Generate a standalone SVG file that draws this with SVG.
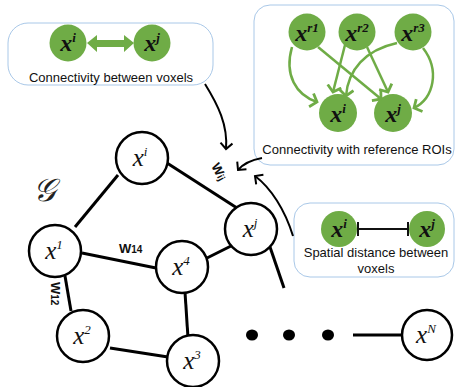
<svg xmlns="http://www.w3.org/2000/svg" width="456" height="387" viewBox="0 0 456 387">
<defs>
<style>
.box{fill:#fff;stroke:#a9c8e8;stroke-width:1}
.gc{fill:#6fac46}
.wc{fill:#fff;stroke:#000;stroke-width:2.5}
.edge{stroke:#000;stroke-width:3;fill:none}
.cap{font-family:"Liberation Sans",Arial,sans-serif;font-size:13px;fill:#111;text-anchor:middle}
.gl{font-family:"Liberation Serif","Times New Roman",serif;font-style:italic;font-weight:bold;font-size:24px;fill:#111;text-anchor:middle}
.wl{font-family:"Liberation Serif","Times New Roman",serif;font-style:italic;font-size:25px;fill:#111;text-anchor:middle}
.sup{font-size:13px}
.w{font-family:"Liberation Sans",Arial,sans-serif;font-weight:bold;font-size:13px;fill:#111}
.ws{font-size:10px}
.garr{stroke:#6fac46;stroke-width:2.5;fill:none;marker-end:url(#gm)}
.karr{stroke:#000;stroke-width:2;fill:none;marker-end:url(#km)}
</style>
<marker id="gm" markerUnits="userSpaceOnUse" markerWidth="16" markerHeight="18" refX="7" refY="8" orient="auto" viewBox="0 0 16 18">
<path d="M1,1 L7,8 L1,15" fill="none" stroke="#6fac46" stroke-width="2.8"/>
</marker>
<marker id="km" markerUnits="userSpaceOnUse" markerWidth="14" markerHeight="16" refX="7" refY="7" orient="auto" viewBox="0 0 14 16">
<path d="M1,1 L7,7 L1,13" fill="none" stroke="#000" stroke-width="2"/>
</marker>
</defs>
<rect width="456" height="387" fill="#fff"/>

<!-- Box 1 -->
<g id="box-voxels">
<rect class="box" x="8" y="23" width="205" height="62" rx="20"/>
<circle class="gc" cx="68" cy="43" r="18.5"/>
<circle class="gc" cx="152" cy="43" r="18.5"/>
<polygon fill="#6fac46" points="87,43 97,35 97,40 124,40 124,35 134,43 124,52 124,47 97,47 97,52"/>
<text class="gl" x="68" y="51">x<tspan class="sup" dy="-9">i</tspan></text>
<text class="gl" x="152" y="51">x<tspan class="sup" dy="-9">j</tspan></text>
<text class="cap" x="111" y="82">Connectivity between voxels</text>
</g>

<!-- Box 2 -->
<g id="box-rois">
<rect class="box" x="254" y="5" width="200" height="160" rx="16"/>
<circle class="gc" cx="307" cy="32" r="18.5"/>
<circle class="gc" cx="357" cy="32" r="18.5"/>
<circle class="gc" cx="413" cy="32" r="18.5"/>
<circle class="gc" cx="338" cy="113" r="19"/>
<circle class="gc" cx="393" cy="113" r="19"/>
<path class="garr" d="M292,47 C284,75 296,95 317,102"/>
<path class="garr" d="M318,47 L381,99"/>
<path class="garr" d="M345,45 L333,92"/>
<path class="garr" d="M367,47 L388,92"/>
<path class="garr" d="M397,43 C365,50 348,70 346,96"/>
<path class="garr" d="M423,48 C440,70 434,98 414,108"/>
<text class="gl" x="307" y="41">x<tspan class="sup" dy="-9">r1</tspan></text>
<text class="gl" x="357" y="41">x<tspan class="sup" dy="-9">r2</tspan></text>
<text class="gl" x="413" y="41">x<tspan class="sup" dy="-9">r3</tspan></text>
<text class="gl" x="338" y="122">x<tspan class="sup" dy="-9">i</tspan></text>
<text class="gl" x="393" y="122">x<tspan class="sup" dy="-9">j</tspan></text>
<text class="cap" x="357" y="154">Connectivity with reference ROIs</text>
</g>

<!-- Box 3 -->
<g id="box-spatial">
<rect class="box" x="294" y="203" width="160" height="74" rx="16"/>
<circle class="gc" cx="339" cy="229" r="18"/>
<circle class="gc" cx="427" cy="229" r="18"/>
<path d="M358,229 L408,229 M358,222 L358,236 M408,222 L408,236" stroke="#111" stroke-width="2" fill="none"/>
<text class="gl" x="339" y="237">x<tspan class="sup" dy="-9">i</tspan></text>
<text class="gl" x="427" y="237">x<tspan class="sup" dy="-9">j</tspan></text>
<text class="cap" x="376" y="257">Spatial distance between</text>
<text class="cap" x="376" y="273">voxels</text>
</g>

<!-- connectors -->
<g id="connectors">
<path class="edge" d="M118,175 L75,227"/>
<path class="edge" d="M167,163 L237,208"/>
<path class="edge" d="M82,253 L156,268"/>
<path class="edge" d="M207,258 L233,245"/>
<path class="edge" d="M65,276 L71,311"/>
<path class="edge" d="M110,348 L168,357"/>
<path class="edge" d="M185,292 L188,338"/>
<path class="edge" d="M270,247 L284,288"/>
<path class="edge" d="M353,335 L402,335"/>
<path class="karr" d="M205,84 C218,105 228,125 226,149"/>
<path class="karr" d="M262,158 C251,160 243,164 238,170"/>
<path class="karr" d="M293,236 C285,210 271,188 255,176"/>
</g>

<!-- graph nodes -->
<g id="node-xi"><circle class="wc" cx="142" cy="158" r="26"/><text class="wl" x="140" y="166">x<tspan class="sup" dy="-10">i</tspan></text></g>
<g id="node-x1"><circle class="wc" cx="55" cy="251" r="26"/><text class="wl" x="54" y="259">x<tspan class="sup" dy="-10">1</tspan></text></g>
<g id="node-x4"><circle class="wc" cx="182" cy="267" r="26"/><text class="wl" x="181" y="275">x<tspan class="sup" dy="-10">4</tspan></text></g>
<g id="node-xj"><circle class="wc" cx="251" cy="229" r="26"/><text class="wl" x="250" y="237">x<tspan class="sup" dy="-10">j</tspan></text></g>
<g id="node-x2"><circle class="wc" cx="83" cy="336" r="26"/><text class="wl" x="82" y="344">x<tspan class="sup" dy="-10">2</tspan></text></g>
<g id="node-x3"><circle class="wc" cx="193" cy="361" r="26"/><text class="wl" x="192" y="369">x<tspan class="sup" dy="-10">3</tspan></text></g>
<g id="node-xN"><circle class="wc" cx="427" cy="335" r="25"/><text class="wl" x="426" y="343">x<tspan class="sup" dy="-10">N</tspan></text></g>
<g id="dots">
<ellipse cx="252" cy="335" rx="6" ry="5.5"/>
<ellipse cx="289" cy="335" rx="6" ry="5.5"/>
<ellipse cx="328" cy="335" rx="6" ry="5.5"/>
</g>

<!-- labels -->
<text x="44" y="201" font-family="'Liberation Serif',serif" font-style="italic" font-size="32" fill="#222" text-anchor="middle">𝒢</text>
<text class="w" x="119" y="253">W<tspan class="ws">14</tspan></text>
<text class="w" transform="translate(51,282) rotate(90)">W<tspan class="ws">12</tspan></text>
<text class="w" transform="translate(211,166) rotate(62)">W<tspan class="ws">ij</tspan></text>
</svg>
